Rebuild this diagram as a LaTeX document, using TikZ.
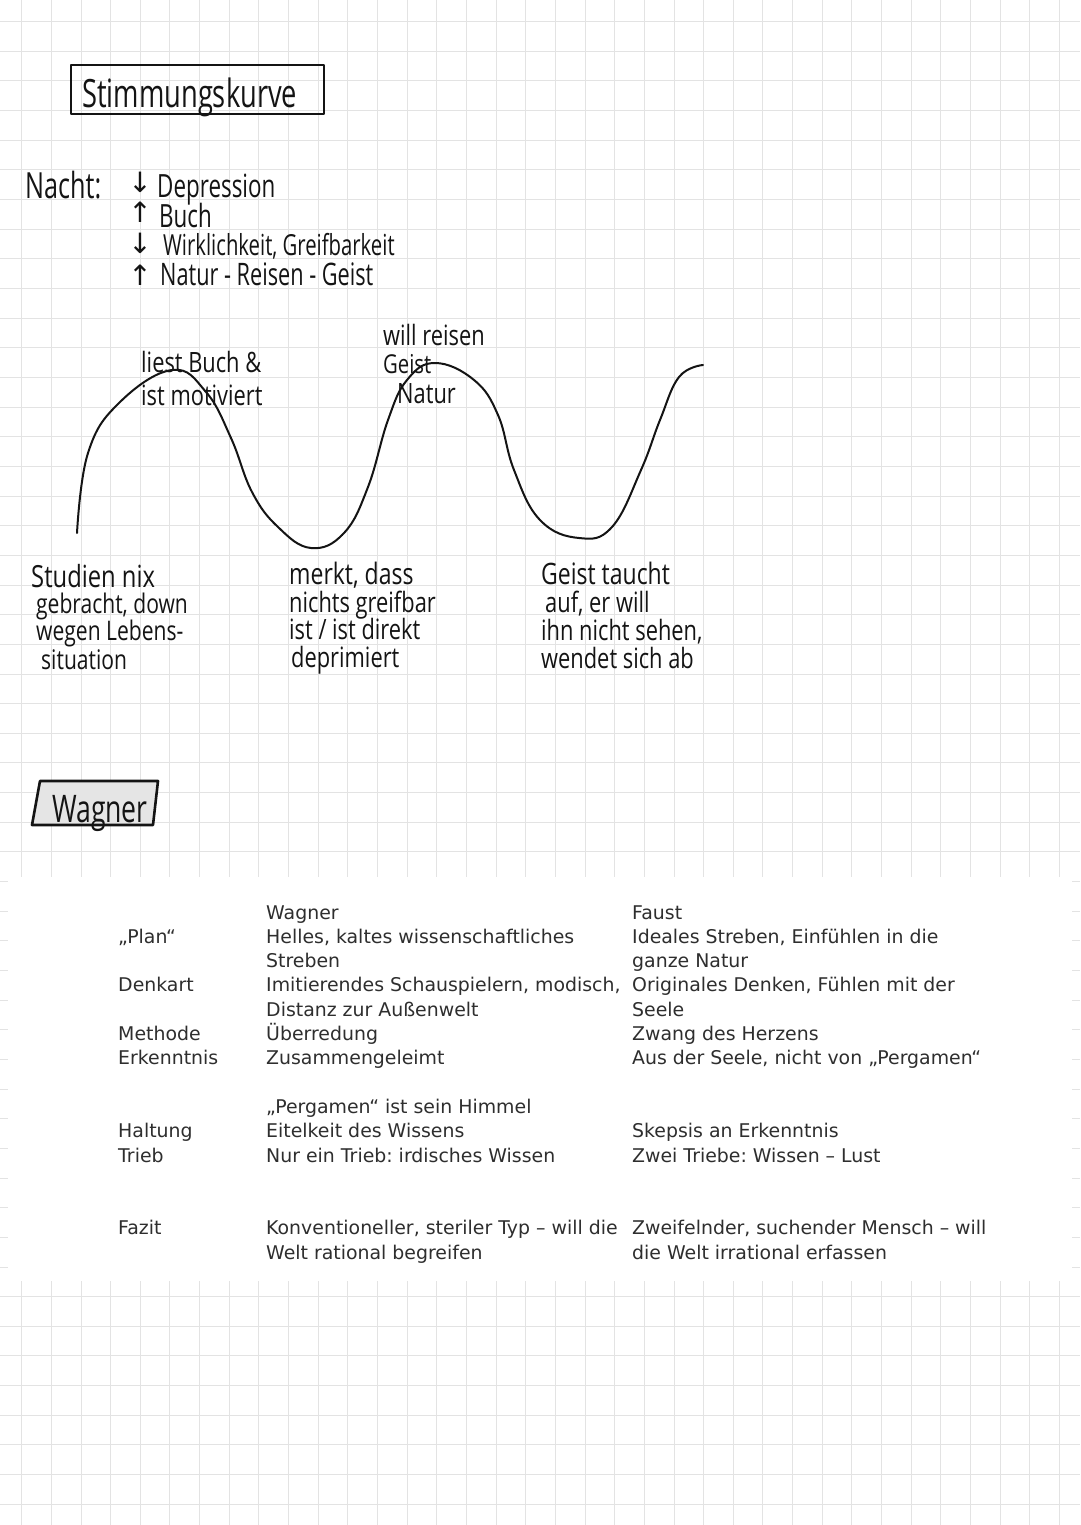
\documentclass[tikz,border=0pt]{standalone}
\usepackage{fontspec}
\setmainfont{DejaVu Sans}
\newfontfamily\handn[FakeStretch=0.7]{Open Sans}
\newfontfamily\hand[FakeStretch=0.78]{Open Sans}
\newfontfamily\symfont{DejaVu Sans}
\newcommand{\hs}[1]{\fontsize{#1}{#1}\selectfont}
\frenchspacing
\begin{document}
\frenchspacing
\begin{tikzpicture}[x=1pt,y=-1pt,
  hw/.style={font=\hand, text=black!92, inner sep=0pt, anchor=base west},
  arr/.style={font=\symfont\hs{28}, text=black!92, inner sep=0pt, anchor=center},
  tb/.style={font=\hs{18.9}, text=black!82, inner sep=0pt, anchor=base west},
  gridline/.style={draw=black!11, line width=1pt},
  pen/.style={draw=black!92, line width=2.4pt, line join=round, line cap=round}]
\useasboundingbox (0,0) rectangle (1080,1525);
\fill[white] (0,0) rectangle (1080,1525);
% grid paper
\foreach \k in {0,...,35} \draw[gridline] ({21.7+29.65*\k},0) -- ({21.7+29.65*\k},1525);
\foreach \k in {0,...,50} \draw[gridline] (0,{21.7+29.65*\k}) -- (1080,{21.7+29.65*\k});
\fill[white] (8,877) rectangle (1072,1281);

% title
\draw[pen, line width=2.2pt] (71,65) rectangle (324,114);
\node[hw, font=\handn\hs{39}] (title) at (82,108) {Stimmungskurve};

% Nacht list
\node[hw, font=\handn\hs{36}] (nacht) at (25,198) {Nacht:};
\node[arr] (a1) at (140,182) {↓};
\node[arr] (a2) at (140,212) {↑};
\node[arr] (a3) at (140,243) {↓};
\node[arr] (a4) at (140,275) {↑};
\node[hw, font=\handn\hs{32}] (n1) at (157,197) {Depression};
\node[hw, font=\handn\hs{32}] (n2) at (159,227) {Buch};
\node[hw, font=\handn\hs{29}] (n3) at (163,255) {Wirklichkeit, Greifbarkeit};
\node[hw, font=\handn\hs{31}] (n4) at (160,285) {Natur - Reisen - Geist};

% mood curve
\draw[pen, line width=2pt] plot[smooth, tension=0.7] coordinates {
  (77,533) (88,453) (119,403) (172,370) (206,392) (231,438)
  (252,492) (278,527) (311,548) (344,533) (368,487) (388,420)
  (407,380) (435,363) (474,380) (498,415) (514,470)
  (540,520) (579,538) (612,527) (641,470) (660,420) (679,377) (703,365)};

% labels above curve
\node[hw, font=\hand\hs{28}] (p1a) at (141,372) {liest Buch \&};
\node[hw, font=\hand\hs{28}] (p1b) at (141,405) {ist motiviert};
\node[hw, font=\hand\hs{28}] (p2a) at (383,345) {will reisen};
\node[hw, font=\hand\hs{26}] (p2b) at (383,373) {Geist};
\node[hw, font=\hand\hs{28}] (p2c) at (397,403) {Natur};

% labels below curve
\node[hw, font=\hand\hs{30.5}] (d1a) at (31,587) {Studien nix};
\node[hw, font=\hand\hs{27}] (d1b) at (36,613) {gebracht, down};
\node[hw, font=\hand\hs{27}] (d1c) at (36,640) {wegen Lebens-};
\node[hw, font=\hand\hs{27}] (d1d) at (41,669) {situation};

\node[hw, font=\hand\hs{29.5}] (d2a) at (289,584) {merkt, dass};
\node[hw, font=\hand\hs{28}] (d2b) at (289,612) {nichts greifbar};
\node[hw, font=\hand\hs{28}] (d2c) at (289,639) {ist / ist direkt};
\node[hw, font=\hand\hs{28}] (d2d) at (291,667) {deprimiert};

\node[hw, font=\hand\hs{29.5}] (d3a) at (541,584) {Geist taucht};
\node[hw, font=\hand\hs{28}] (d3b) at (545,612) {auf, er will};
\node[hw, font=\hand\hs{28}] (d3c) at (541,640) {ihn nicht sehen,};
\node[hw, font=\hand\hs{28}] (d3d) at (541,668) {wendet sich ab};

% Wagner box
\draw[pen, line width=2.6pt, fill=black!10] (40,781) -- (158,781) -- (153,825) -- (32,825) -- cycle;
\node[hw, font=\handn\hs{38}] (wag) at (52,822) {Wagner};

% table
\node[tb] (hW) at (266,919) {Wagner};
\node[tb] (hF) at (632,919) {Faust};

\node[tb] (r1) at (118,943.3) {„Plan“};
\node[tb] (w1a) at (266,943.3) {Helles, kaltes wissenschaftliches};
\node[tb] (w1b) at (266,967.6) {Streben};
\node[tb] (f1a) at (632,943.3) {Ideales Streben, Einfühlen in die};
\node[tb] (f1b) at (632,967.6) {ganze Natur};

\node[tb] (r2) at (118,991.9) {Denkart};
\node[tb] (w2a) at (266,991.9) {Imitierendes Schauspielern, modisch,};
\node[tb] (w2b) at (266,1016.2) {Distanz zur Außenwelt};
\node[tb] (f2a) at (632,991.9) {Originales Denken, Fühlen mit der};
\node[tb] (f2b) at (632,1016.2) {Seele};

\node[tb] (r3) at (118,1040.5) {Methode};
\node[tb] (w3) at (266,1040.5) {Überredung};
\node[tb] (f3) at (632,1040.5) {Zwang des Herzens};

\node[tb] (r4) at (118,1064.8) {Erkenntnis};
\node[tb] (w4) at (266,1064.8) {Zusammengeleimt};
\node[tb] (f4) at (632,1064.8) {Aus der Seele, nicht von „Pergamen“};

\node[tb] (w5) at (266,1113.4) {„Pergamen“ ist sein Himmel};

\node[tb] (r6) at (118,1137.7) {Haltung};
\node[tb] (w6) at (266,1137.7) {Eitelkeit des Wissens};
\node[tb] (f6) at (632,1137.7) {Skepsis an Erkenntnis};

\node[tb] (r7) at (118,1162) {Trieb};
\node[tb] (w7) at (266,1162) {Nur ein Trieb: irdisches Wissen};
\node[tb] (f7) at (632,1162) {Zwei Triebe: Wissen – Lust};

\node[tb] (r8) at (118,1234.9) {Fazit};
\node[tb] (w8a) at (266,1234.9) {Konventioneller, steriler Typ – will die};
\node[tb] (w8b) at (266,1259.2) {Welt rational begreifen};
\node[tb] (f8a) at (632,1234.9) {Zweifelnder, suchender Mensch – will};
\node[tb] (f8b) at (632,1259.2) {die Welt irrational erfassen};
\end{tikzpicture}
\end{document}
